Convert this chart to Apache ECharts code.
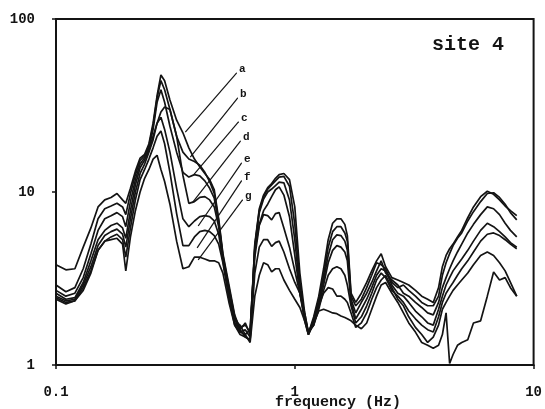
<!DOCTYPE html>
<html>
<head>
<meta charset="utf-8">
<script src="https://cdn.jsdelivr.net/npm/echarts@6/dist/echarts.min.js"></script>
<style>
  html, body { margin: 0; padding: 0; background: #fff; }
  #chart { width: 545px; height: 409px; }
</style>
</head>
<body>
<div id="chart"></div>
<script>
// Frequency samples (Hz) shared by all spectral ratio curves
const freq = [
  0.10, 0.11, 0.12, 0.13, 0.14, 0.15, 0.16, 0.17, 0.18, 0.19,
  0.196, 0.205, 0.215, 0.225, 0.235, 0.245, 0.255, 0.265, 0.275, 0.285,
  0.30, 0.32, 0.34, 0.36, 0.38, 0.40, 0.42, 0.44, 0.46, 0.48,
  0.50, 0.53, 0.56, 0.59, 0.62, 0.65, 0.68, 0.71, 0.74, 0.77,
  0.80, 0.83, 0.86, 0.90, 0.95, 1.00, 1.05, 1.10, 1.14, 1.20,
  1.26, 1.32, 1.38, 1.44, 1.50, 1.56, 1.62, 1.66, 1.72, 1.80,
  1.90, 2.0, 2.1, 2.2, 2.3, 2.4, 2.55, 2.7, 2.85, 3.0,
  3.2, 3.4, 3.6, 3.8, 4.0, 4.15, 4.3, 4.45, 4.6, 4.8,
  5.0, 5.3, 5.6, 6.0, 6.4, 6.8, 7.2, 7.6, 8.0, 8.5
];

const curveA = [
  3.8, 3.55, 3.6, 4.8, 6.2, 8.2, 9.0, 9.3, 9.8, 9.0,
  8.6, 10.5, 13.2, 15.7, 16.5, 19, 25, 36, 47.5, 44,
  34, 26, 22, 18, 15.5, 14.0, 12.8, 11.8, 10.3, 7.0,
  4.4, 2.9, 1.95, 1.6, 1.45, 1.4, 5.0, 8.0, 9.6, 10.6,
  11.2, 12.0, 12.6, 12.8, 11.8, 8.2, 3.4, 2.0, 1.52, 1.9,
  2.5, 3.6, 5.3, 6.6, 7.0, 7.0, 6.5, 5.6, 2.6, 2.3,
  2.6, 3.0, 3.5, 4.0, 4.4, 3.7, 3.2, 3.1, 3.0, 2.9,
  2.7, 2.5, 2.4, 2.3, 2.8, 3.7, 4.3, 4.7, 5.0, 5.5,
  6.0, 7.1, 8.2, 9.4, 10.1, 9.7, 9.0, 8.3, 7.8, 7.3
];
const curveB = [
  2.9, 2.65, 2.8, 3.6, 5.0, 7.0, 8.0, 8.3, 8.6, 8.2,
  7.4, 9.8, 12.6, 15.2, 16.2, 18.5, 24, 35, 44, 39,
  30, 21, 17, 15.5, 15.0, 14.3, 13.0, 11.5, 9.8, 6.8,
  4.3, 2.8, 1.9, 1.65, 1.7, 1.55, 4.9, 7.8, 9.4, 10.4,
  11.0, 11.6, 12.2, 12.3, 10.8, 6.5, 3.0, 1.9, 1.5, 1.85,
  2.4, 3.3, 4.8, 5.9, 6.3, 6.3, 5.8, 5.2, 2.5, 2.2,
  2.4, 2.8, 3.3, 3.9, 3.8, 3.6, 3.0, 2.8, 2.9, 2.7,
  2.5, 2.3, 2.2, 2.2, 2.5, 3.3, 3.9, 4.4, 4.9, 5.4,
  5.8, 6.8, 7.7, 8.8, 9.8, 9.9, 9.3, 8.5, 7.6, 6.9
];
const curveC = [
  2.7, 2.5, 2.6, 3.2, 4.4, 6.0, 7.0, 7.3, 7.6, 7.2,
  6.3, 8.8, 11.8, 14.5, 15.8, 18, 23, 33, 39, 33,
  24, 17, 13, 12.2, 12.6, 12.4, 11.6, 10.5, 9.2, 6.6,
  4.2, 2.7, 1.85, 1.55, 1.6, 1.45, 4.7, 7.6, 9.1, 10.0,
  10.4, 10.9, 11.4, 11.3, 9.0, 5.3, 2.7, 1.85, 1.55, 1.8,
  2.3, 3.1, 4.3, 5.3, 5.65, 5.6, 5.2, 4.6, 2.4, 2.0,
  2.3, 2.6, 3.0, 3.5, 4.0, 3.4, 3.1, 2.9, 2.6, 2.5,
  2.3, 2.15, 2.0, 1.95, 2.3, 2.8, 3.2, 3.6, 4.0, 4.5,
  5.0, 5.8, 6.5, 7.4, 8.2, 8.0, 7.4, 6.6, 6.0, 5.5
];
const curveD = [
  2.6, 2.4, 2.45, 3.0, 4.0, 5.3, 6.0, 6.4, 6.6, 6.2,
  5.4, 7.8, 11.0, 13.8, 15.3, 17.5, 21, 25, 29, 31,
  30, 21, 12.5, 8.6, 8.8, 9.3, 9.4, 9.0, 8.2, 6.3,
  4.1, 2.6, 1.8, 1.7, 1.5, 1.6, 4.6, 6.5, 7.8, 8.5,
  9.4, 10.3, 10.7, 9.6, 7.2, 4.3, 2.6, 1.8, 1.5, 1.75,
  2.2, 2.9, 3.9, 4.6, 4.9, 4.8, 4.5, 4.0, 2.3, 1.85,
  2.1, 2.4, 2.8, 3.3, 3.6, 3.5, 2.9, 2.6, 2.5, 2.3,
  2.05, 1.9, 1.75, 1.7, 2.1, 2.5, 2.9, 3.2, 3.5, 3.8,
  4.1, 4.6, 5.2, 6.0, 6.6, 6.3, 5.9, 5.5, 5.1, 4.8
];
const curveE = [
  2.5, 2.35, 2.4, 2.9, 3.7, 4.9, 5.6, 5.9, 6.1, 5.7,
  4.8, 7.0, 10.0, 12.8, 14.5, 17, 20, 25, 27, 23,
  17, 10.5, 7.0, 6.3, 6.8, 7.2, 7.3, 7.2, 6.8, 5.7,
  4.0, 2.5, 1.75, 1.6, 1.75, 1.5, 4.2, 6.4, 7.4, 7.3,
  6.9, 7.5, 7.6, 6.2, 4.8, 3.5, 2.6, 1.9, 1.55, 1.7,
  2.1, 2.7, 3.3, 3.6, 3.7, 3.6, 3.3, 2.9, 2.2, 1.75,
  1.9, 2.2, 2.6, 3.1, 3.4, 3.2, 2.7, 2.5, 2.3, 2.05,
  1.85, 1.7, 1.6, 1.55, 1.9, 2.3, 2.6, 2.8, 3.0, 3.3,
  3.6, 4.0, 4.5, 5.2, 5.7, 5.8, 5.6, 5.3, 5.0, 4.7
];
const curveF = [
  2.45, 2.3, 2.35, 2.8, 3.5, 4.6, 5.2, 5.5, 5.7, 5.3,
  4.2, 6.2, 9.0, 11.8, 13.5, 15.5, 18, 21, 22.5, 19,
  13, 7.5, 4.9, 4.9, 5.5, 5.9, 6.0, 5.9, 5.6, 5.0,
  3.9, 2.45, 1.7, 1.5, 1.45, 1.4, 3.4, 4.8, 5.3, 5.3,
  4.85, 5.1, 5.2, 4.5, 3.6, 3.0, 2.6, 2.0, 1.55, 1.7,
  2.2, 2.6, 2.8, 2.75, 2.5, 2.5, 2.4, 2.3, 2.0, 1.65,
  1.75, 2.0, 2.4, 2.8, 3.1, 3.3, 2.8, 2.4, 2.2, 1.9,
  1.65, 1.5, 1.35, 1.45, 1.7, 2.1, 2.3, 2.5, 2.7, 2.9,
  3.1, 3.4, 3.8, 4.3, 4.5, 4.3, 3.9, 3.5, 3.0, 2.5
];
const curveG = [
  2.4, 2.25, 2.35, 2.7, 3.4, 4.6, 5.2, 5.3, 5.4, 5.0,
  3.5, 5.5, 7.8, 10.0, 12.0, 13.5, 15.5, 16.3, 13.5, 11.5,
  8.5, 5.2, 3.6, 3.7, 4.2, 4.2, 4.1, 4.0, 4.0, 3.9,
  3.4, 2.3, 1.7, 1.55, 1.5, 1.35, 2.5, 3.3, 3.9, 3.8,
  3.45, 3.6, 3.6, 3.1, 2.7, 2.4, 2.15, 1.8, 1.5, 1.75,
  2.05, 2.1, 2.05, 2.0, 1.98, 1.92, 1.88, 1.85, 1.8, 1.7,
  1.62, 1.75, 2.1, 2.5, 2.9, 3.0, 2.6, 2.3, 2.0, 1.75,
  1.55, 1.35, 1.3, 1.25, 1.3, 1.5, 2.0, 1.02, 1.15, 1.3,
  1.35, 1.4, 1.75, 1.8, 2.5, 3.45, 3.1, 3.2, 2.8, 2.5
];

// Curve letters and their leader lines (upper end, point on the curve), in Hz / amplitude
const curveNames = ['a', 'b', 'c', 'd', 'e', 'f', 'g'];
const leaderTop = [[0.570, 48.7], [0.576, 34.9], [0.581, 25.4], [0.592, 19.7], [0.598, 14.7], [0.598, 11.6], [0.604, 9.0]];
const leaderTip = [[0.348, 22.2], [0.365, 15.9], [0.379, 12.7], [0.372, 8.64], [0.394, 6.36], [0.390, 4.75], [0.394, 4.05]];

const xTicks = ['0.1', '1', '10'];
const yTicks = ['1', '10', '100'];
const siteTitle = 'site 4';
const xTitle = 'frequency (Hz)';

const curves = [curveA, curveB, curveC, curveD, curveE, curveF, curveG];
const INK = '#141414';
const FONT = '"Liberation Mono", "DejaVu Sans Mono", monospace';

const chart = echarts.init(document.getElementById('chart'), null, { renderer: 'canvas' });

const curveSeries = curves.map((vals, k) => ({
  type: 'line',
  name: curveNames[k],
  data: freq.map((f, i) => [f, vals[i]]),
  showSymbol: false,
  symbol: 'none',
  smooth: false,
  lineStyle: { color: INK, width: 1.7 },
  z: 3
}));

// Each leader: a two-point segment, the letter sits beside its upper end
const leaderSeries = curveNames.map((nm, k) => ({
  type: 'line',
  data: [
    { value: leaderTop[k], symbol: 'circle', symbolSize: 1,
      label: { show: true, formatter: nm, position: 'right', distance: 2, offset: [0, -4],
        fontFamily: FONT, fontWeight: 'bold', fontSize: 11, color: INK } },
    { value: leaderTip[k], symbol: 'none' }
  ],
  showSymbol: true,
  showAllSymbol: true,
  symbol: 'circle',
  symbolSize: 1,
  itemStyle: { color: INK },
  lineStyle: { color: INK, width: 1.2 },
  z: 4
}));

function fmt(v) {
  const s = +Number(v).toPrecision(3);
  return String(s);
}

chart.setOption({
  animation: false,
  backgroundColor: '#fff',
  grid: { left: 56, right: 5, top: 19, bottom: 44, show: true, borderColor: INK, borderWidth: 2, backgroundColor: 'transparent' },
  xAxis: {
    type: 'log', logBase: 10, min: 0.1, max: 10,
    axisLine: { show: true, lineStyle: { color: INK, width: 2 } },
    axisTick: { show: true, length: 4, lineStyle: { color: INK, width: 1.5 } },
    minorTick: { show: false },
    splitLine: { show: false },
    axisLabel: {
      show: true, margin: 20, fontFamily: FONT, fontSize: 14, fontWeight: 'bold', color: INK,
      showMaxLabel: true, showMinLabel: true,
      formatter: v => { const s = fmt(v); return xTicks.indexOf(s) >= 0 ? s : ''; }
    }
  },
  yAxis: {
    type: 'log', logBase: 10, min: 1, max: 100,
    axisLine: { show: true, lineStyle: { color: INK, width: 2 } },
    axisTick: { show: true, length: 4, lineStyle: { color: INK, width: 1.5 } },
    minorTick: { show: false },
    splitLine: { show: false },
    axisLabel: {
      show: true, margin: 21, fontFamily: FONT, fontSize: 14, fontWeight: 'bold', color: INK,
      showMaxLabel: true, showMinLabel: true,
      formatter: v => { const s = fmt(v); return yTicks.indexOf(s) >= 0 ? s : ''; }
    }
  },
  graphic: [
    { type: 'text', x: 468, y: 45, style: { text: siteTitle, fill: INK, font: 'bold 20px ' + FONT, textAlign: 'center', textVerticalAlign: 'middle' } },
    { type: 'text', x: 338, y: 402, style: { text: xTitle, fill: INK, font: 'bold 15px ' + FONT, textAlign: 'center', textVerticalAlign: 'middle' } }
  ],
  series: curveSeries.concat(leaderSeries)
});
</script>
</body>
</html>
